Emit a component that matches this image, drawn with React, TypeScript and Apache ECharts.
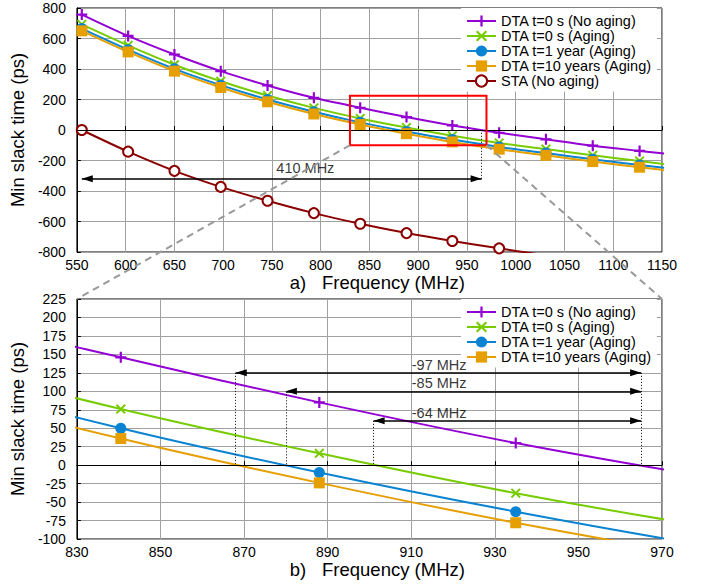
import React, { useEffect, useRef } from "react";
import * as echarts from "echarts";

const FONT = "'Liberation Sans', Arial, Helvetica, sans-serif";

// ---- data ----
const freqMHz = [555, 602.5, 650, 697.5, 745.5, 793, 840.5, 888, 935, 983, 1031, 1079, 1127, 1174];
const dtaNoAging = [757, 617, 495, 386, 292, 211, 146, 85, 30, -18, -61, -103, -137, -170];
const dtaAgingT0 = [693, 555, 428, 320, 226, 145, 76, 16, -38, -85, -125, -166, -203, -240];
const dtaAging1y = [665, 527, 401, 294, 200, 120, 50, -10, -63, -111, -151, -192, -229, -265];
const dtaAging10y = [650, 512, 386, 279, 185, 105, 36, -24, -78, -126, -166, -207, -244, -280];
const staFreqMHz = [555, 602.5, 650, 697.5, 745.5, 793, 840.5, 888, 935, 983, 1031];
const staNoAging = [0, -142, -268, -373, -464, -545, -615, -676, -728, -776, -822];

const seriesNames = [
  "DTA t=0 s (No aging)",
  "DTA t=0 s (Aging)",
  "DTA t=1 year (Aging)",
  "DTA t=10 years (Aging)",
  "STA (No aging)",
];

// axes
const topFreqRange = [550, 1150];
const topFreqStep = 50;
const topSlackRange = [-800, 800];
const topSlackStep = 200;
const zoomFreqRange = [830, 970];
const zoomFreqStep = 20;
const zoomSlackRange = [-100, 225];
const zoomSlackStep = 25;

// annotations
const topSpanFreq = [555, 965];
const topSpanSlack = -320;
const topSpanText = "410 MHz";
const topSpanTextFreq = 754;
const spanStartFreq = [868, 880, 901];
const spanEndFreq = 965;
const spanSlack = [125, 100, 60];
const spanTexts = ["-97 MHz", "-85 MHz", "-64 MHz"];
const spanTextFreq = 910;

const PLUS = "path://M4,0 H6 V4 H10 V6 H6 V10 H4 V6 H0 V4 H4 Z";
const CROSS =
  "path://M0,1.4 L1.4,0 L5,3.6 L8.6,0 L10,1.4 L6.4,5 L10,8.6 L8.6,10 L5,6.4 L1.4,10 L0,8.6 L3.6,5 Z";

const styles = [
  { color: "#9400d3", symbol: PLUS, size: 11 },
  { color: "#77cc00", symbol: CROSS, size: 10 },
  { color: "#0a84d2", symbol: "circle", size: 11 },
  { color: "#e69f00", symbol: "rect", size: 11 },
  { color: "#8b0000", symbol: "emptyCircle", size: 10 },
];

function lineSeries(idx: number, grid: number, xs: number[], ys: number[], extra: any = {}) {
  const s = styles[idx];
  return {
    type: "line",
    name: seriesNames[idx],
    xAxisIndex: grid,
    yAxisIndex: grid,
    data: xs.map((x, i) => [x, ys[i]]),
    smooth: 0.3,
    clip: true,
    symbol: s.symbol,
    symbolSize: s.size,
    lineStyle: { color: s.color, width: 2 },
    itemStyle: {
      color: s.color,
      borderColor: s.color,
      borderWidth: s.symbol === "emptyCircle" ? 2 : 0,
    },
    emphasis: { disabled: true },
    ...extra,
  };
}

const zeroLine = (grid: number) => ({
  type: "line",
  xAxisIndex: grid,
  yAxisIndex: grid,
  data: [],
  markLine: {
    silent: true,
    symbol: "none",
    label: { show: false },
    lineStyle: { color: "#000", width: 1, type: "solid" },
    data: [{ yAxis: 0 }],
  },
});

const arrowMark = (pairs: any[]) => ({
  silent: true,
  symbol: ["triangle", "triangle"],
  symbolSize: [7, 11],
  symbolOffset: [
    [0, 5.5],
    [0, 5.5],
  ],
  label: { show: false },
  lineStyle: { color: "#000", width: 1.6, type: "solid" },
  data: pairs,
});

function axisX(grid: number, range: number[], step: number, label: string) {
  return {
    type: "value",
    gridIndex: grid,
    min: range[0],
    max: range[1],
    interval: step,
    name: `{a|${label}}{b|Frequency (MHz)}`,
    nameLocation: "middle",
    nameGap: 19,
    nameTextStyle: {
      color: "#000",
      fontFamily: FONT,
      fontSize: 18.5,
      rich: {
        a: { fontSize: 18.5, fontFamily: FONT, color: "#000", width: 48 },
        b: { fontSize: 18.5, fontFamily: FONT, color: "#000" },
      },
    },
    axisLine: { show: true, lineStyle: { color: "#000", width: 1 } },
    axisTick: { show: true, inside: true, length: 4, lineStyle: { color: "#000" } },
    axisLabel: {
      color: "#000",
      fontSize: 14,
      fontFamily: FONT,
      margin: 6,
      formatter: (v: number) => String(v),
    },
    splitLine: { show: true, lineStyle: { color: "#a0a0a0", width: 1 } },
  };
}

function axisY(grid: number, range: number[], step: number) {
  return {
    type: "value",
    gridIndex: grid,
    min: range[0],
    max: range[1],
    interval: step,
    name: "Min slack time (ps)",
    nameLocation: "middle",
    nameGap: 38,
    nameTextStyle: { color: "#000", fontFamily: FONT, fontSize: 18.5 },
    axisLine: { show: true, lineStyle: { color: "#000", width: 1 } },
    axisTick: { show: true, inside: true, length: 4, lineStyle: { color: "#000" } },
    axisLabel: {
      color: "#000",
      fontSize: 14,
      fontFamily: FONT,
      margin: 11,
      formatter: (v: number) => String(v),
    },
    splitLine: { show: true, lineStyle: { color: "#a0a0a0", width: 1 } },
  };
}

function legend(top: number, names: string[]) {
  return {
    data: names,
    orient: "vertical",
    left: 461,
    top,
    itemWidth: 29,
    itemHeight: 14,
    itemGap: 0,
    padding: [5.5, 5, 3, 5],
    backgroundColor: "#fff",
    selectedMode: false,
    textStyle: { color: "#000", fontSize: 14.5, fontFamily: FONT },
  };
}

export default function App() {
  const ref = useRef<HTMLDivElement>(null);
  useEffect(() => {
    if (!ref.current) return;
    const chart = echarts.init(ref.current, null, { renderer: "svg" });

    const textLabel = (fmt: (p: any) => string, dy: number) => ({
      show: true,
      position: "right",
      distance: 0,
      offset: [0, dy],
      formatter: fmt,
      color: "#000",
      fontSize: 14.5,
      fontFamily: FONT,
    });

    const series: any[] = [];
    // top grid
    series.push(zeroLine(0));
    series.push(lineSeries(0, 0, freqMHz, dtaNoAging));
    series.push(lineSeries(1, 0, freqMHz, dtaAgingT0));
    series.push(lineSeries(2, 0, freqMHz, dtaAging1y));
    series.push(lineSeries(3, 0, freqMHz, dtaAging10y));
    series.push(lineSeries(4, 0, staFreqMHz, staNoAging));
    // zoom box
    series.push({
      type: "line",
      xAxisIndex: 0,
      yAxisIndex: 0,
      data: [],
      markArea: {
        silent: true,
        z: 6,
        itemStyle: { color: "rgba(0,0,0,0)", borderColor: "#ff0000", borderWidth: 2 },
        data: [
          [
            { coord: [zoomFreqRange[0], zoomSlackRange[1]] },
            { coord: [zoomFreqRange[1], zoomSlackRange[0]] },
          ],
        ],
      },
    });
    // top arrow + dotted
    series.push({
      type: "line",
      xAxisIndex: 0,
      yAxisIndex: 0,
      data: [],
      markLine: arrowMark([
        [{ coord: [topSpanFreq[0], topSpanSlack] }, { coord: [topSpanFreq[1], topSpanSlack] }],
      ]),
    });
    series.push({
      type: "line",
      xAxisIndex: 0,
      yAxisIndex: 0,
      data: [],
      markLine: {
        silent: true,
        symbol: "none",
        label: { show: false },
        lineStyle: { color: "#000", width: 1, type: [1, 2] },
        data: [[{ coord: [topSpanFreq[1], topSpanSlack] }, { coord: [topSpanFreq[1], 0] }]],
      },
    });
    series.push({
      type: "scatter",
      xAxisIndex: 0,
      yAxisIndex: 0,
      z: 10,
      symbolSize: 1,
      itemStyle: { color: "rgba(0,0,0,0)" },
      data: [[topSpanTextFreq, topSpanSlack]],
      label: textLabel(() => topSpanText, -11),
      silent: true,
    });

    // bottom grid
    series.push(zeroLine(1));
    series.push(lineSeries(0, 1, freqMHz, dtaNoAging));
    series.push(lineSeries(1, 1, freqMHz, dtaAgingT0));
    series.push(lineSeries(2, 1, freqMHz, dtaAging1y));
    series.push(lineSeries(3, 1, freqMHz, dtaAging10y));
    series.push({
      type: "line",
      xAxisIndex: 1,
      yAxisIndex: 1,
      data: [],
      markLine: arrowMark(
        spanStartFreq.map((f, i) => [
          { coord: [f, spanSlack[i]] },
          { coord: [spanEndFreq, spanSlack[i]] },
        ])
      ),
    });
    series.push({
      type: "line",
      xAxisIndex: 1,
      yAxisIndex: 1,
      data: [],
      markLine: {
        silent: true,
        symbol: "none",
        label: { show: false },
        lineStyle: { color: "#000", width: 1, type: [1, 2] },
        data: [
          ...spanStartFreq.map((f, i) => [{ coord: [f, spanSlack[i]] }, { coord: [f, 0] }]),
          [{ coord: [spanEndFreq, Math.max(...spanSlack)] }, { coord: [spanEndFreq, 0] }],
        ],
      },
    });
    series.push({
      type: "scatter",
      xAxisIndex: 1,
      yAxisIndex: 1,
      z: 10,
      symbolSize: 1,
      itemStyle: { color: "rgba(0,0,0,0)" },
      data: spanSlack.map((y) => [spanTextFreq, y]),
      label: textLabel((p: any) => spanTexts[p.dataIndex], -8),
      silent: true,
    });

    const option: any = {
      animation: false,
      backgroundColor: "#fff",
      textStyle: { fontFamily: FONT },
      grid: [
        { left: 72, right: 44, top: 8, height: 244, show: true, borderColor: "#000", borderWidth: 1, backgroundColor: "transparent" },
        { left: 72, right: 44, top: 299, height: 240, show: true, borderColor: "#000", borderWidth: 1, backgroundColor: "transparent" },
      ],
      xAxis: [
        axisX(0, topFreqRange, topFreqStep, "a)"),
        axisX(1, zoomFreqRange, zoomFreqStep, "b)"),
      ],
      yAxis: [axisY(0, topSlackRange, topSlackStep), axisY(1, zoomSlackRange, zoomSlackStep)],
      legend: [legend(8, seriesNames), legend(299, seriesNames.slice(0, 4))],
      series,
    };
    chart.setOption(option);

    const a1 = chart.convertToPixel({ gridIndex: 0 }, [zoomFreqRange[0], zoomSlackRange[0]]) as number[];
    const a2 = chart.convertToPixel({ gridIndex: 0 }, [zoomFreqRange[1], zoomSlackRange[0]]) as number[];
    const b1 = chart.convertToPixel({ gridIndex: 1 }, [zoomFreqRange[0], zoomSlackRange[1]]) as number[];
    const b2 = chart.convertToPixel({ gridIndex: 1 }, [zoomFreqRange[1], zoomSlackRange[1]]) as number[];
    const dash = { stroke: "#999", lineWidth: 2, lineDash: [7, 5] };
    chart.setOption({
      graphic: [
        { type: "line", silent: true, z: 100, shape: { x1: a1[0], y1: a1[1], x2: b1[0], y2: b1[1] }, style: dash },
        { type: "line", silent: true, z: 100, shape: { x1: a2[0], y1: a2[1], x2: b2[0], y2: b2[1] }, style: dash },
      ],
    });

    return () => chart.dispose();
  }, []);
  return (
    <div
      ref={ref}
      style={{ position: "fixed", left: 0, top: 0, width: 706, height: 584, background: "#fff" }}
    />
  );
}
